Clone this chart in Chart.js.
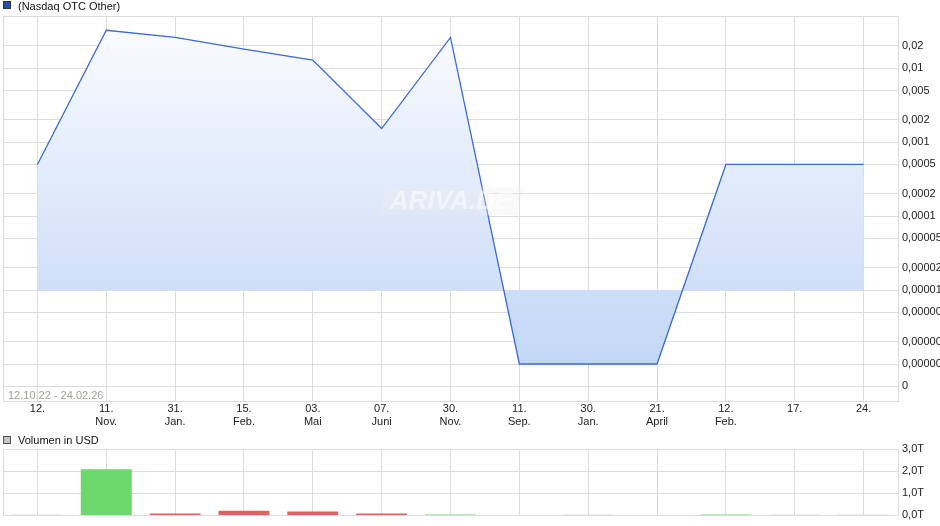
<!DOCTYPE html>
<html>
<head>
<meta charset="utf-8">
<script src="https://cdn.jsdelivr.net/npm/chart.js@4.4.1/dist/chart.umd.min.js"></script>
<style>
  body { margin: 0; background: #fff; font-family: "Liberation Sans", Arial, sans-serif; }
  #wrap { position: relative; width: 940px; height: 526px; overflow: hidden; }
  canvas { position: absolute; left: 0; }
  .leg { position: absolute; left: 18px; font-size: 11px; line-height: 12px; color: #111; white-space: nowrap; }
  .box { position: absolute; left: 3px; width: 6px; height: 6px; border: 1px solid #333; }
  #range { position: absolute; left: 8px; top: 389px; font-size: 11px; line-height: 12px; color: #a3a09b; }
</style>
</head>
<body>
<div id="wrap">
  <canvas id="price" width="940" height="432" style="top:0"></canvas>
  <canvas id="vol" width="940" height="96" style="top:430px"></canvas>
  <div class="box" style="top:1px;background:#1d4fb8"></div>
  <div class="leg" style="top:0px">(Nasdaq OTC Other)</div>
  <div class="box" style="top:436px;background:#c4c4c4;border-color:#555"></div>
  <div class="leg" style="top:434px">Volumen in USD</div>
  <div id="range">12.10.22 - 24.02.26</div>
</div>
<script>
// x axis: day line + month line
const dayLabels   = ['12.', '11.', '31.', '15.', '03.', '07.', '30.', '11.', '30.', '21.', '12.', '17.', '24.'];
const monthLabels = ['', 'Nov.', 'Jan.', 'Feb.', 'Mai', 'Juni', 'Nov.', 'Sep.', 'Jan.', 'April', 'Feb.', '', ''];

// closing prices (USD)
const prices = [0.0005, 0.0326, 0.0262, 0.0181, 0.0129, 0.00153, 0.0261, 0.000001, 0.000001, 0.000001, 0.0005, 0.0005, 0.0005];
// volume (USD)
const volumes = [30, 2080, 90, 210, 180, 90, 40, 0, 30, 0, 40, 30, 30];

// right axis ticks of the price chart
const yTickValues = [0.02, 0.01, 0.005, 0.002, 0.001, 0.0005, 0.0002, 0.0001, 0.00005, 0.00002, 0.00001, 0.000005, 0.000002, 0.000001, 0.0000005];
const yTickLabels = ['0,02', '0,01', '0,005', '0,002', '0,001', '0,0005', '0,0002', '0,0001', '0,00005', '0,00002', '0,00001', '0,000005', '0,000002', '0,000001', '0'];
const fillBase = 0.00001;

const volTicks = [0, 1000, 2000, 3000];

const labels = dayLabels.map((d, i) => [d, monthLabels[i]]);
const gridCol = '#dcdcdc';
const font = { family: '"Liberation Sans", Arial, sans-serif', size: 11 };

// bar colour from price direction
const volColors = prices.map((p, i) => {
  if (i === 0 || p === prices[i - 1]) return '#b4b4b4';
  return p > prices[i - 1] ? '#6bd96b' : '#d96461';
});

const frame = {
  id: 'frame',
  afterDraw(chart) {
    const a = chart.chartArea, c = chart.ctx;
    c.save();
    c.strokeStyle = gridCol;
    c.lineWidth = 1;
    c.strokeRect(Math.round(a.left) + 0.5, Math.round(a.top) + 0.5, Math.round(a.right - a.left), Math.round(a.bottom - a.top));
    c.restore();
  }
};

const watermark = {
  id: 'watermark',
  afterDatasetsDraw(chart) {
    const c = chart.ctx;
    c.save();
    c.fillStyle = 'rgba(238,238,238,0.35)';
    c.beginPath();
    c.moveTo(386, 187); c.lineTo(524, 187); c.lineTo(517, 215); c.lineTo(379, 215);
    c.closePath();
    c.fill();
    c.font = 'italic bold 26px "Liberation Sans", Arial, sans-serif';
    c.fillStyle = 'rgba(255,255,255,0.5)';
    c.textAlign = 'center';
    c.textBaseline = 'middle';
    c.fillText('ARIVA.DE', 451, 202);
    c.restore();
  }
};

const pctx = document.getElementById('price').getContext('2d');
const gAbove = pctx.createLinearGradient(0, 16, 0, 290);
gAbove.addColorStop(0, '#fbfcff');
gAbove.addColorStop(1, '#d0dff8');
const gBelow = pctx.createLinearGradient(0, 290, 0, 364);
gBelow.addColorStop(0, '#cddef8');
gBelow.addColorStop(1, '#c3d7f5');

new Chart(pctx, {
  type: 'line',
  data: {
    labels: labels,
    datasets: [{
      label: '(Nasdaq OTC Other)',
      data: prices,
      borderColor: '#3a6bd0',
      borderWidth: 1.3,
      pointRadius: 0,
      tension: 0,
      fill: { value: fillBase, above: gAbove, below: gBelow }
    }]
  },
  options: {
    responsive: false,
    animation: false,
    devicePixelRatio: 1,
    layout: { padding: { top: 16, left: 3, right: 0, bottom: 0 } },
    plugins: { legend: { display: false }, tooltip: { enabled: false } },
    scales: {
      x: {
        type: 'category',
        offset: true,
        grid: { offset: false, color: gridCol, drawTicks: false },
        border: { color: gridCol },
        ticks: { maxRotation: 0, autoSkip: false, padding: 1, font: font, color: '#222' },
        afterFit: s => { s.height = 31; }
      },
      y: {
        type: 'logarithmic',
        position: 'right',
        min: 3.16e-7,
        max: 0.0509,
        afterBuildTicks: s => { s.ticks = yTickValues.map(v => ({ value: v })); },
        afterFit: s => { s.width = 42; },
        grid: { color: gridCol, drawTicks: false },
        border: { color: gridCol },
        ticks: { autoSkip: false, padding: 4, font: font, color: '#222', callback: (v, i) => yTickLabels[i] }
      }
    }
  },
  plugins: [frame, watermark]
});

new Chart(document.getElementById('vol'), {
  type: 'bar',
  data: {
    labels: labels,
    datasets: [{
      label: 'Volumen in USD',
      data: volumes,
      backgroundColor: volColors,
      barPercentage: 0.74,
      categoryPercentage: 1
    }]
  },
  options: {
    responsive: false,
    animation: false,
    devicePixelRatio: 1,
    layout: { padding: { top: 19, left: 3, right: 0, bottom: 9 } },
    plugins: { legend: { display: false }, tooltip: { enabled: false } },
    scales: {
      x: {
        offset: true,
        grid: { offset: false, color: gridCol, drawTicks: false },
        border: { color: gridCol },
        ticks: { display: false },
        afterFit: s => { s.height = 0; }
      },
      y: {
        position: 'right',
        min: 0,
        max: 3000,
        afterBuildTicks: s => { s.ticks = volTicks.map(v => ({ value: v })); },
        afterFit: s => { s.width = 42; },
        grid: { color: gridCol, drawTicks: false },
        border: { color: gridCol },
        ticks: { padding: 4, font: font, color: '#222', callback: v => (v / 1000).toFixed(1).replace('.', ',') + 'T' }
      }
    }
  },
  plugins: [frame]
});
</script>
</body>
</html>
